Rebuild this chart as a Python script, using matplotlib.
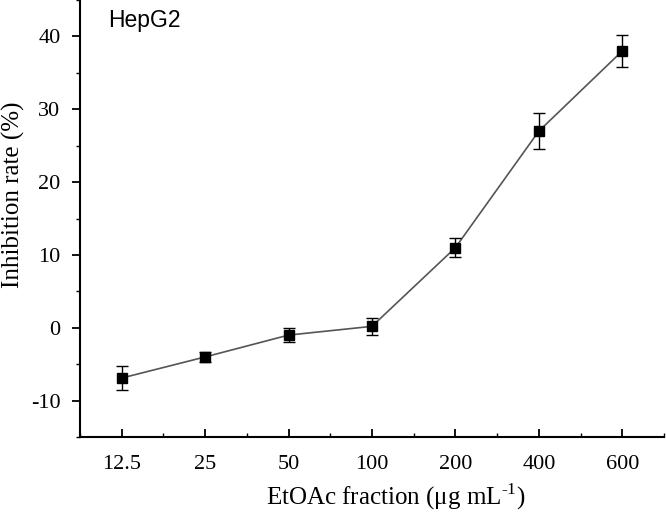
import matplotlib
matplotlib.use('Agg')
import matplotlib.pyplot as plt
from matplotlib.ticker import MultipleLocator

plt.rcParams['font.family'] = ['Liberation Serif', 'DejaVu Serif']
plt.rcParams['mathtext.fontset'] = 'custom'
plt.rcParams['mathtext.rm'] = 'Liberation Serif'
plt.rcParams['axes.unicode_minus'] = False

# data
conc_labels = ['12.5', '25', '50', '100', '200', '400', '600']
inhibition = [-6.9, -4.0, -1.0, 0.2, 11.0, 27.0, 38.0]
inhibition_err = [1.7, 0.7, 1.0, 1.2, 1.3, 2.5, 2.2]

fig = plt.figure(figsize=(6.66, 5.13), dpi=100)
ax = fig.add_axes([0.12, 0.148, 0.877, 0.852])

x = list(range(len(conc_labels)))
ax.plot(x, inhibition, color='#555555', lw=1.2, zorder=1)
ax.errorbar(x, inhibition, yerr=inhibition_err, fmt='s', color='black',
            ms=7, elinewidth=1.0, capsize=4, capthick=1.0, zorder=2)

ax.set_xlim(-0.5, 6.5)
ax.set_ylim(-15, 45)
ax.set_xticks(x)
ax.set_xticklabels(conc_labels)
ax.xaxis.set_minor_locator(MultipleLocator(0.5))
ax.set_yticks([-10, 0, 10, 20, 30, 40])
ax.yaxis.set_minor_locator(MultipleLocator(5))

for s in ['top', 'right']:
    ax.spines[s].set_visible(False)
for s in ['left', 'bottom']:
    ax.spines[s].set_linewidth(1.5)

ax.tick_params(axis='x', which='major', direction='in', length=6, width=1.3,
               labelsize=16, pad=13)
ax.tick_params(axis='x', which='minor', direction='in', length=3, width=1.0)
ax.tick_params(axis='y', which='major', direction='out', length=6, width=1.3,
               labelsize=16, pad=8)
ax.tick_params(axis='y', which='minor', direction='out', length=3, width=1.0)

ax.set_xlabel(r'EtOAc fraction (μg mL$^{\text{-}1}$)', fontsize=18)
ax.xaxis.set_label_coords(0.54, -0.137)
ax.xaxis.label.set_va('center')
ax.set_ylabel('Inhibition rate (%)', fontsize=18)
ax.yaxis.set_label_coords(-0.113, 0.554)
ax.yaxis.label.set_va('center')

ax.text(0.048, 0.952, 'HepG2', transform=ax.transAxes, fontsize=16.5,
        family='Liberation Sans', ha='left', va='center')

fig.savefig('out.png', dpi=100)
